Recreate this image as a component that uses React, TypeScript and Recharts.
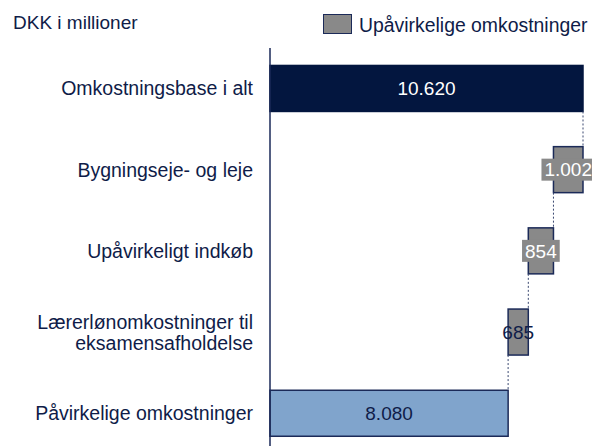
import React from 'react';
import { BarChart, Bar, XAxis, YAxis, LabelList } from 'recharts';

// ---- data ----
const categories = [
  'Omkostningsbase i alt',
  'Bygningseje- og leje',
  'Upåvirkeligt indkøb',
  'Lærerlønomkostninger til eksamensafholdelse',
  'Påvirkelige omkostninger',
];
const values = [10620, 1002, 854, 685, 8080];
const kinds = ['total', 'step', 'step', 'step', 'total'];
const tickLines: string[][] = [
  ['Omkostningsbase i alt'],
  ['Bygningseje- og leje'],
  ['Upåvirkeligt indkøb'],
  ['Lærerlønomkostninger til', 'eksamensafholdelse'],
  ['Påvirkelige omkostninger'],
];
const titleText = 'DKK i millioner';
const legendText = 'Upåvirkelige omkostninger';

// ---- styles ----
const FONT = '"Liberation Sans", Arial, sans-serif';
const NAVY_TEXT = '#0f1c48';
const NAVY_BAR = '#03163f';
const GRAY = '#898989';
const LIGHT_BLUE = '#80a4cc';
const BORDER = '#1b2a58';
const barFills = [NAVY_BAR, GRAY, GRAY, GRAY, LIGHT_BLUE];
const barStrokes = [NAVY_BAR, BORDER, BORDER, BORDER, BORDER];
const labelVariants = ['light', 'boxed', 'boxed', 'dark', 'dark'];
const CAT_GAP = 0.215;
const GAP_RATIO = (2 * CAT_GAP) / (1 - 2 * CAT_GAP);

const fmt = (v: number) => String(v).replace(/\B(?=(\d{3})+(?!\d))/g, '.');

let running = 0;
const data = categories.map((c, i) => {
  const v = values[i];
  let base = 0;
  if (kinds[i] === 'total') {
    base = 0;
    running = v;
  } else {
    running -= v;
    base = running;
  }
  return { category: c, base, value: v };
});

const WaterfallBar = (props: any) => {
  const { x, y, width, height, index } = props;
  const gap = height * GAP_RATIO;
  let conn: any = null;
  if (index < data.length - 1) {
    const cx = kinds[index] === 'total' ? x + width : x;
    conn = (
      <line
        x1={cx}
        x2={cx}
        y1={y + height}
        y2={y + height + gap}
        stroke="#3a4870"
        strokeWidth={1}
        strokeDasharray="2 2"
      />
    );
  }
  return (
    <g>
      <rect
        x={x}
        y={y}
        width={width}
        height={height}
        fill={barFills[index]}
        stroke={barStrokes[index]}
        strokeWidth={1.5}
      />
      {conn}
    </g>
  );
};

const textWidth = (s: string) =>
  s.split('').reduce((a, ch) => a + (ch === '.' ? 5.28 : 10.56), 0);

const ValueLabel = (props: any) => {
  const { x, y, width, height, index, value } = props;
  const cx = x + width / 2;
  const cy = y + height / 2;
  const text = fmt(Number(value));
  const variant = labelVariants[index];
  const w = textWidth(text);
  return (
    <g>
      {variant === 'boxed' && (
        <rect x={cx - w / 2 - 3} y={cy - 11} width={w + 6} height={22} fill={GRAY} />
      )}
      <text
        x={cx}
        y={cy}
        dy="0.35em"
        textAnchor="middle"
        fontSize={19}
        fontFamily={FONT}
        fill={variant === 'dark' ? NAVY_TEXT : '#ffffff'}
      >
        {text}
      </text>
    </g>
  );
};

const CategoryTick = (props: any) => {
  const { x, y, index } = props;
  const lines = tickLines[index] || [String(props.payload?.value ?? '')];
  const lh = 21;
  const start = -((lines.length - 1) * lh) / 2;
  return (
    <text x={x} y={y} textAnchor="end" fontSize={19.5} fontFamily={FONT} fill={NAVY_TEXT}>
      {lines.map((l, i) => (
        <tspan key={i} x={x} y={y + start + i * lh} dy="0.35em">
          {l}
        </tspan>
      ))}
    </text>
  );
};

export default function App() {
  return (
    <div
      style={{
        position: 'absolute',
        left: 0,
        top: 0,
        width: 592,
        height: 446,
        overflow: 'hidden',
        background: '#ffffff',
        fontFamily: FONT,
      }}
    >
      <BarChart
        width={592}
        height={454}
        data={data}
        layout="vertical"
        margin={{ top: 48, right: 9, left: 0, bottom: 0 }}
        barCategoryGap={`${CAT_GAP * 100}%`}
      >
        <XAxis type="number" hide domain={[0, 10620]} />
        <YAxis
          type="category"
          dataKey="category"
          width={270}
          axisLine={{ stroke: BORDER, strokeWidth: 1.5 }}
          tickLine={false}
          tickSize={0}
          tickMargin={17}
          tick={<CategoryTick />}
          interval={0}
        />
        <Bar dataKey="base" stackId="a" fill="transparent" isAnimationActive={false} />
        <Bar dataKey="value" stackId="a" shape={<WaterfallBar />} isAnimationActive={false}>
          <LabelList dataKey="value" content={<ValueLabel />} />
        </Bar>
      </BarChart>
      <div
        style={{
          position: 'absolute',
          left: 13,
          top: 12,
          fontSize: 19,
          lineHeight: '22px',
          color: NAVY_TEXT,
          whiteSpace: 'nowrap',
        }}
      >
        {titleText}
      </div>
      <div
        style={{
          position: 'absolute',
          left: 323,
          top: 14,
          width: 27,
          height: 18,
          background: GRAY,
          border: `1.5px solid ${BORDER}`,
        }}
      />
      <div
        style={{
          position: 'absolute',
          left: 359,
          top: 14,
          fontSize: 19.4,
          lineHeight: '22px',
          color: NAVY_TEXT,
          whiteSpace: 'nowrap',
        }}
      >
        {legendText}
      </div>
    </div>
  );
}
